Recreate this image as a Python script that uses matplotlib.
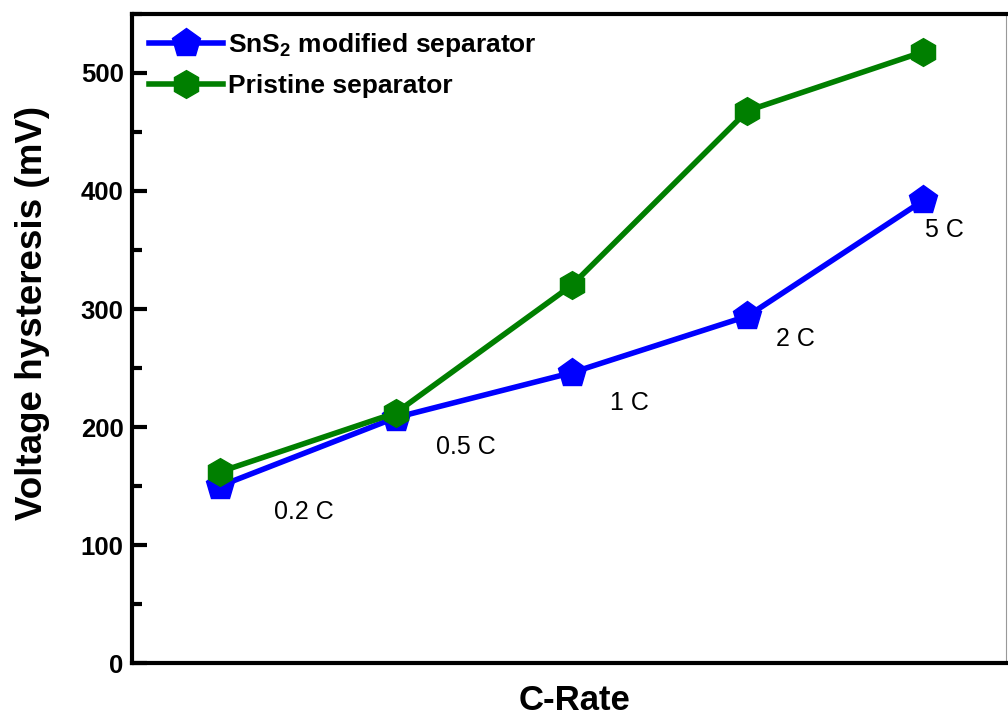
import matplotlib
matplotlib.use("Agg")
import matplotlib.pyplot as plt
from matplotlib.ticker import MultipleLocator

plt.rcParams["font.family"] = ["Liberation Sans", "DejaVu Sans"]
plt.rcParams["mathtext.default"] = "regular"

# ── data ─────────────────────────────────────────────────────────────────────
rates = ["0.2 C", "0.5 C", "1 C", "2 C", "5 C"]
sns2_sep = [150, 208, 246, 294, 392]
pristine_sep = [162, 212, 320, 468, 518]

# where each rate label sits (data coords)
label_x = [0.48, 1.40, 2.33, 3.27, 4.12]
label_y = [128, 183, 220, 275, 367]

x = list(range(len(rates)))

fig = plt.figure(figsize=(10.08, 7.21), dpi=100)
ax = fig.add_axes([0.131, 0.0804, 0.867, 0.9002])

ax.plot(x, sns2_sep, color="#0000ff", lw=4, marker="p", ms=21,
        label="SnS$_2$ modified separator")
ax.plot(x, pristine_sep, color="#007f00", lw=4, marker="h", ms=20,
        label="Pristine separator")

for lx, ly, txt in zip(label_x, label_y, rates):
    ax.text(lx, ly, txt, fontsize=18, ha="center", va="center")

ax.set_xlim(-0.5, 4.47)
ax.set_ylim(0, 550)
ax.set_xticks([])
ax.yaxis.set_major_locator(MultipleLocator(100))
ax.yaxis.set_minor_locator(MultipleLocator(50))
ax.tick_params(axis="y", which="major", direction="in", length=11, width=3,
               labelsize=18.5, pad=6)
ax.tick_params(axis="y", which="minor", direction="in", length=7, width=3)
for lbl in ax.get_yticklabels():
    lbl.set_fontweight("bold")

for side in ["left", "bottom", "top"]:
    ax.spines[side].set_linewidth(3)
ax.spines["right"].set_linewidth(0.8)
ax.spines["right"].set_color("#999999")

ax.set_ylabel("Voltage hysteresis (mV)", fontsize=26.5, fontweight="bold")
ax.yaxis.set_label_coords(-0.094, 0.54)
ax.set_xlabel("C-Rate", fontsize=25, fontweight="bold")
ax.xaxis.set_label_coords(0.506, -0.033)

leg = ax.legend(loc="upper left", frameon=False, fontsize=19,
                handlelength=2.8, handletextpad=0.2, borderaxespad=0.35,
                labelspacing=0.58, borderpad=0.3)
for t in leg.get_texts():
    t.set_fontweight("bold")

fig.savefig("out.png", dpi=100)
